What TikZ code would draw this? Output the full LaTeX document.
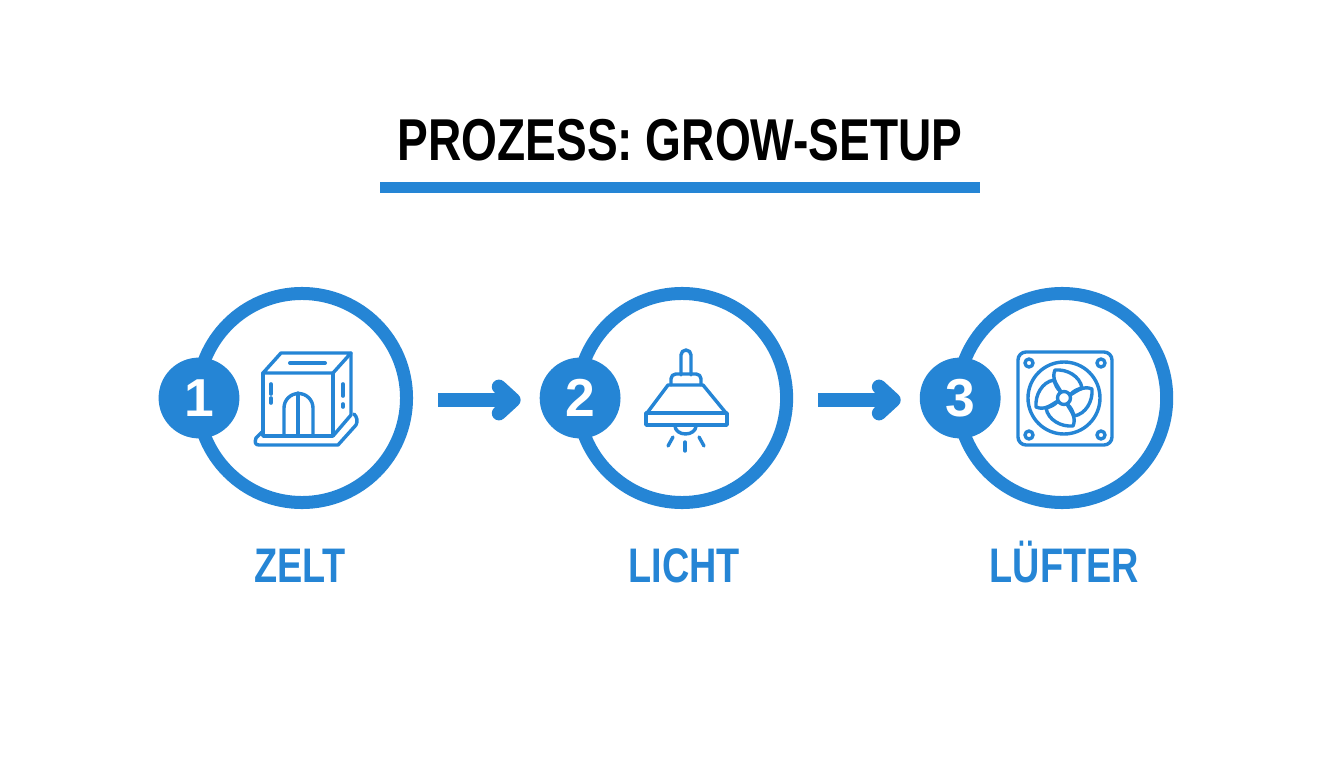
\documentclass[tikz,border=0pt]{standalone}
\usepackage{fontspec}
\setmainfont{Liberation Sans}[FakeStretch=0.78]
\newfontfamily\digitfont{Liberation Sans}
\usepackage{xcolor}
\usetikzlibrary{positioning,arrows.meta,calc}
\definecolor{growblue}{HTML}{2585D5}

\begin{document}
\begin{tikzpicture}[
    x=0.025cm, y=-0.025cm,
    ring/.style={circle, draw=growblue, line width=0.325cm, fill=white, minimum size=5.225cm, inner sep=0pt, outer sep=0pt},
    badge/.style={circle, fill=growblue, text=white, minimum size=2.02cm, inner sep=0pt, font=\fontsize{38}{38}\selectfont\digitfont\bfseries},
    caption/.style={text=growblue, anchor=base, inner sep=0pt, font=\fontsize{34.5}{40}\selectfont\bfseries},
    arrow/.style={-{Straight Barb[round, length=0.36cm, width=0.66cm]}, growblue, line width=0.36cm, shorten <=0.79cm, shorten >=0.47cm},
    iconline/.style={draw=growblue, line width=0.085cm, line join=round, line cap=round}
]

% Page
\path[use as bounding box, fill=white] (0,0) rectangle (1344,768);

% Title
\node[inner sep=0pt, anchor=base, font=\fontsize{42}{50}\selectfont\bfseries] (title) at (680,161) {PROZESS: GROW-SETUP};
\node[fill=growblue, minimum width=15cm, minimum height=0.275cm, inner sep=0pt, below=0.5cm of title] (rule) {};

% Rings
\node[ring] (ring1) at (302,398) {};
\node[ring, right=4.275cm of ring1] (ring2) {};
\node[ring, right=4.275cm of ring2] (ring3) {};

% Number badges
\node[badge] (badge1) at ($(ring1)+(-103,0)$) {1};
\node[badge] (badge2) at ($(ring2)+(-102,0)$) {2};
\node[badge] (badge3) at ($(ring3)+(-102,0)$) {3};

% Arrows
\draw[arrow] ([yshift=-0.05cm]ring1.east) -- ([yshift=-0.05cm]badge2.west);
\draw[arrow] ([yshift=-0.05cm]ring2.east) -- ([yshift=-0.05cm]badge3.west);

% Captions
\node[caption] (zelt) at ($(ring1)+(-2,184)$) {ZELT};
\node[caption] (licht) at ($(ring2)+(2,184)$) {LICHT};
\node[caption] (luefter) at ($(ring3)+(2,184)$) {LÜFTER};

% Icon 1: tent
\draw[iconline] (263,373) -- (281,353) -- (351,353) -- (333,373) -- cycle;
\draw[iconline] (263,373) -- (263,436) -- (333,436) -- (333,373);
\draw[iconline] (351,353) -- (351,415) -- (333,436);
\draw[iconline] (262,432) -- (256,438) .. controls (254,443) and (256,445) .. (259,445) -- (338,445) -- (356,425) .. controls (358,421) and (357,417) .. (354,414);
\draw[iconline, line width=0.1cm] (290,363) -- (325,363);
\draw[iconline] (284,436) -- (284,408) arc[start angle=180, end angle=360, radius=14.5] -- (313,436);
\draw[iconline] (298,393) -- (298,436);
\draw[iconline, line width=0.09cm] (271,384) -- (271,394) (271,398) -- (271,403);
\draw[iconline, line width=0.09cm] (343,384) -- (343,396) (343,404) -- (343,407);

% Icon 2: lamp
\draw[iconline] (681,375) -- (681,355) arc[start angle=180, end angle=360, radius=5] -- (691,375);
\draw[iconline, rounded corners=0.12cm] (671,385) -- (671,374) -- (701,374) -- (701,385);
\draw[iconline] (668,385) -- (703,385) -- (726,413) -- (647,413) -- cycle;
\draw[iconline] (646,413) rectangle (727,425);
\draw[iconline] (675,426) arc[start angle=180, end angle=0, x radius=10.5, y radius=8];
\draw[iconline] (673,437) -- (668,446);
\draw[iconline] (685,442) -- (685,451);
\draw[iconline] (699,437) -- (704,446);

% Icon 3: fan
\draw[iconline, rounded corners=0.2cm] (1018,352) rectangle (1112,445);
\coordinate (hub) at (1064,398);
\draw[iconline] (hub) circle[radius=36];
\draw[iconline] (hub) circle[radius=6.5];
\foreach \cx/\cy in {1029/363, 1101/363, 1029/435, 1101/435}
    \draw[iconline] (\cx,\cy) circle[radius=4];
\foreach \a in {0,90,180,270}
    \draw[iconline, shift={(hub)}, rotate=\a] (-3,-6) .. controls (-6,-12) and (-13,-19) .. (-9,-28) .. controls (3,-29) and (16,-22) .. (18,-10) .. controls (14,-9) and (9,-7) .. (6,-3);

\end{tikzpicture}
\end{document}
